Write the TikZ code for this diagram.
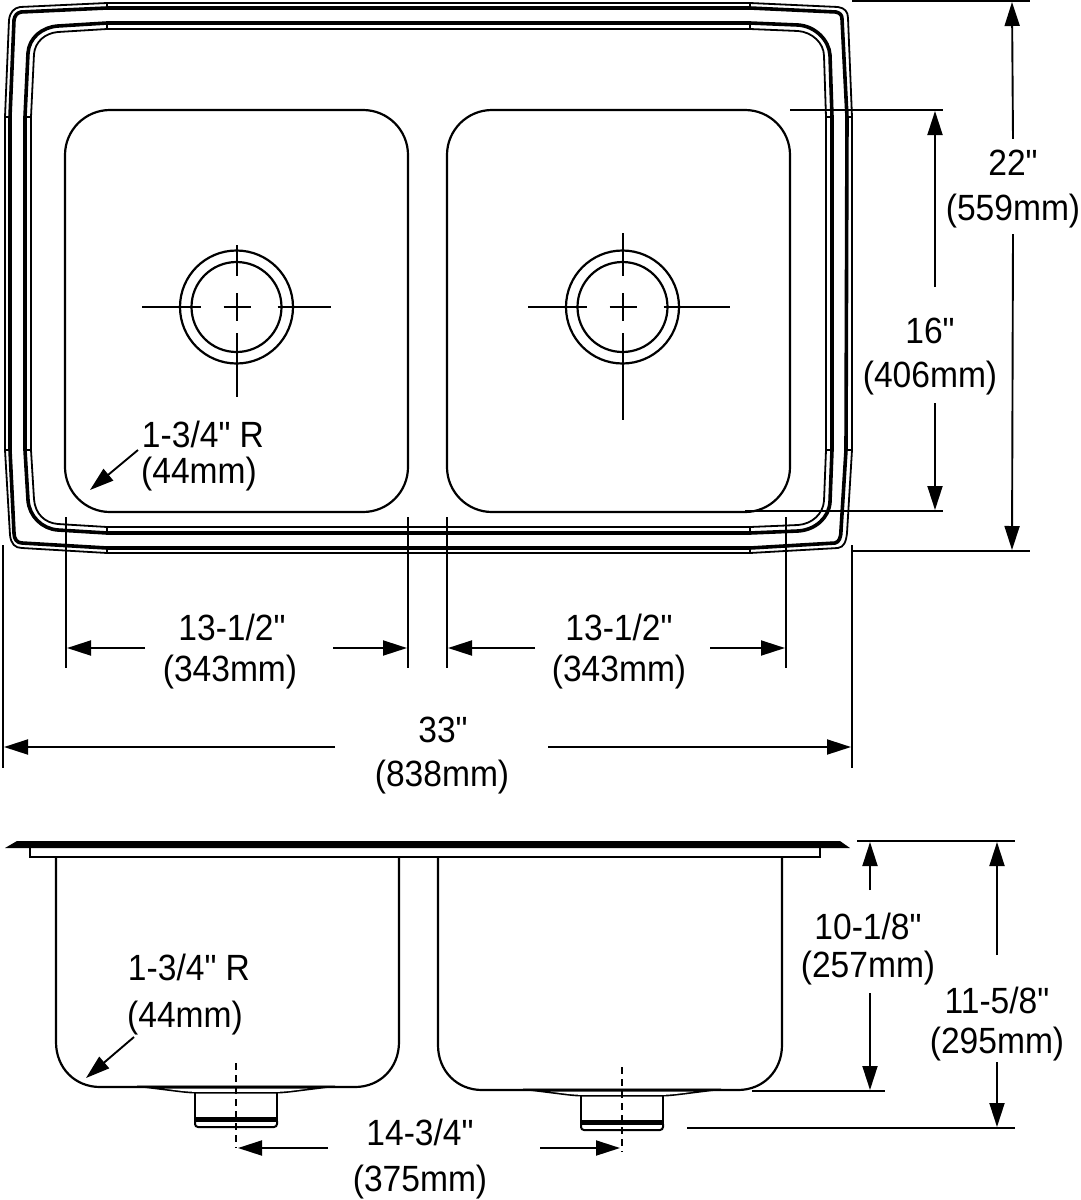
\documentclass[tikz,border=0pt]{standalone}
\usepackage{fontspec}
\setmainfont{Liberation Sans}[FakeStretch=0.92, Ligatures=TeXOff]
\usetikzlibrary{arrows.meta}

\begin{document}
\begin{tikzpicture}[x=1pt, y=-1pt,
		rimthin/.style={line width=1.8pt, line join=round},
		rimthick/.style={line width=3.6pt, line join=round},
		outline/.style={line width=2.2pt},
		thinline/.style={line width=2pt},
		dimline/.style={line width=1.9pt},
		dimarrow/.style={line width=1.9pt, -{Triangle[length=24pt, width=15pt]}},
		centerdash/.style={line width=2.2pt, dash pattern=on 7pt off 5pt},
		dimtext/.style={font=\fontsize{36.5}{36.5}\selectfont, inner sep=0pt, text height=26pt, text depth=0pt}]
\useasboundingbox (0,0) rectangle (1081,1200);

% rim
\draw[rimthin] (107,3) -- (750,3) -- (838,7) .. controls (845,8) and (848,12) .. (848,18) -- (852,117) -- (852,450) -- (847,533) .. controls (846,542) and (844,547) .. (838,548) -- (750,553) -- (107,553) -- (22,548) .. controls (15,548) and (11,544) .. (10,535) -- (5,450) -- (5,117) -- (9,20) .. controls (10,12) and (14,8) .. (20,7) -- cycle;
\draw[rimthick] (107,8) -- (750,8) -- (836,12) .. controls (840,13) and (842,15) .. (842,19) -- (847,117) -- (846,450) -- (841,530) .. controls (841,538) and (839,542) .. (835,543) -- (750,548) -- (107,548) -- (22,543) .. controls (17,543) and (14,539) .. (14,533) -- (10,450) -- (10,117) -- (14,20) .. controls (15,15) and (17,13) .. (21,12) -- cycle;
\draw[rimthick] (107,23) -- (750,23) -- (798,25) .. controls (815,26) and (829,40) .. (830,55) -- (832,117) -- (832,450) -- (830,502) .. controls (829,518) and (815,530) .. (798,531) -- (750,533) -- (107,533) -- (58,530) .. controls (42,529) and (29,516) .. (28,500) -- (25,450) -- (25,117) -- (28,53) .. controls (29,38) and (42,27) .. (58,26) -- cycle;
\draw[rimthin] (107,29) -- (750,29) -- (798,31) .. controls (812,32) and (824,43) .. (824,56) -- (826,117) -- (826,450) -- (824,501) .. controls (823,514) and (812,524) .. (798,525) -- (750,527) -- (107,527) -- (58,524) .. controls (45,523) and (35,514) .. (34,499) -- (31,450) -- (31,117) -- (34,54) .. controls (35,42) and (45,33) .. (58,32) -- cycle;
\foreach \x in {107,750} {
	\draw[rimthin] (\x,3) -- (\x,8) (\x,23) -- (\x,29) (\x,527) -- (\x,533) (\x,548) -- (\x,553);
}
\foreach \y in {117,450} {
	\draw[rimthin] (5,\y) -- (10,\y) (25,\y) -- (31,\y) (826,\y) -- (832,\y) (846,\y) -- (852,\y);
}

% bowls from above
\draw[outline, rounded corners=45pt] (65,110) rectangle (408,512);
\draw[outline, rounded corners=45pt] (447,110) rectangle (790,512);

% drains
\foreach \cx/\tl/\tr/\tb/\bb in {236.5/142/331/245/397, 622.5/528/730/233/420} {
	\draw[outline] (\cx,307) circle (56.5pt) (\cx,307) circle (45pt);
	\draw[thinline] (\tl,307) -- (\cx-36,307) (\cx-13,307) -- (\cx+14,307) (\cx+41,307) -- (\tr,307);
	\draw[thinline] (\cx,\tb) -- (\cx,276) (\cx,293) -- (\cx,321) (\cx,333) -- (\cx,\bb);
}

% dimensions, top view
\draw[dimline] (852,1) -- (1030,1) (852,551) -- (1030,551) (790,110) -- (943,110) (745,511) -- (943,511);
\draw[dimline] (66,517) -- (66,668) (408,517) -- (408,668) (447,517) -- (447,668) (786,517) -- (786,668) (3,545) -- (3,768) (852,545) -- (852,768);
\coordinate (a22top) at (1012,2);
\coordinate (a22bot) at (1012,550);
\node[dimtext] (l22) at (1013,162) {22"};
\node[dimtext] (l559) at (1013,207) {(559mm)};
\draw[dimarrow] ([yshift=10pt]l22.north) -- (a22top);
\draw[dimarrow] ([yshift=-14pt]l559.south) -- (a22bot);
\coordinate (a16top) at (935,111);
\coordinate (a16bot) at (935,510);
\node[dimtext] (l16) at (930,330) {16"};
\node[dimtext] (l406) at (930,374) {(406mm)};
\draw[dimarrow] (935,287) -- (a16top);
\draw[dimarrow] (935,403) -- (a16bot);
\coordinate (a1l) at (67,648);
\coordinate (a1r) at (407,648);
\node[dimtext] (l1a) at (232,627) {13-1/2"};
\node[dimtext] (l1b) at (230,668) {(343mm)};
\draw[dimarrow] (145,648) -- (a1l);
\draw[dimarrow] (333,648) -- (a1r);
\coordinate (a2l) at (448,648);
\coordinate (a2r) at (785,648);
\node[dimtext] (l2a) at (619,627) {13-1/2"};
\node[dimtext] (l2b) at (619,668) {(343mm)};
\draw[dimarrow] (535,648) -- (a2l);
\draw[dimarrow] (710,648) -- (a2r);
\coordinate (a3l) at (4,747);
\coordinate (a3r) at (851,747);
\node[dimtext] (l3a) at (443,729) {33"};
\node[dimtext] (l3b) at (442,773) {(838mm)};
\draw[dimarrow] (335,747) -- (a3l);
\draw[dimarrow] (548,747) -- (a3r);
\coordinate (r1s) at (138,450);
\coordinate (r1e) at (90,490);
\node[dimtext] (r1a) at (203,434) {1-3/4" R};
\node[dimtext] (r1b) at (199,470) {(44mm)};
\draw[dimarrow] (r1s) -- (r1e);

% side view
\fill (5,848) -- (17,841) -- (840,841) -- (850,848) -- cycle;
\draw[thinline] (30,848) -- (30,857) -- (820,857) -- (820,848);
\draw[outline] (56,857) -- (56,1042) .. controls (56,1068) and (75,1087) .. (100,1087) -- (355,1087) .. controls (380,1087) and (399,1068) .. (399,1042) -- (399,857);
\draw[outline] (438,857) -- (438,1045) .. controls (438,1071) and (457,1090) .. (482,1090) -- (738,1090) .. controls (763,1090) and (782,1071) .. (782,1045) -- (782,857);

% drains from the side
\foreach \cx/\fy in {236/1087, 622/1090} {
	\begin{scope}[shift={(\cx,\fy)}]
		\fill (-99,-1.5) -- (99,-1.5) -- (99,0) .. controls (65,4) and (50,6.5) .. (41,6.5) -- (-41,6.5) .. controls (-50,6.5) and (-65,4) .. (-99,0) -- cycle;
		\fill[white] (-72,1.6) .. controls (-58,3.5) and (-48,4.8) .. (-41,4.8) -- (41,4.8) .. controls (48,4.8) and (58,3.5) .. (72,1.6) -- cycle;
		\draw[thinline] (-41,5) -- (-41,31) (41,5) -- (41,31);
		\fill (-42,30) rectangle (42,35);
		\draw[thinline, rounded corners=3pt] (-41,34) -- (-41,40) -- (41,40) -- (41,34);
	\end{scope}
}
\draw[centerdash] (236,1063) -- (236,1148);
\draw[centerdash] (622,1067) -- (622,1152);

% dimensions, side view
\draw[dimline] (857,841) -- (1015,841) (752,1091) -- (885,1091) (687,1128) -- (1015,1128);
\coordinate (a10top) at (870,842);
\coordinate (a10bot) at (870,1090);
\node[dimtext] (l10a) at (868,926) {10-1/8"};
\node[dimtext] (l10b) at (868,964) {(257mm)};
\draw[dimarrow] (870,890) -- (a10top);
\draw[dimarrow] (870,993) -- (a10bot);
\coordinate (a11top) at (997,842);
\coordinate (a11bot) at (997,1127);
\node[dimtext] (l11a) at (997,1000) {11-5/8"};
\node[dimtext] (l11b) at (997,1040) {(295mm)};
\draw[dimarrow] (997,955) -- (a11top);
\draw[dimarrow] (997,1062) -- (a11bot);
\coordinate (a14l) at (238,1148);
\coordinate (a14r) at (620,1148);
\node[dimtext] (l14a) at (420,1132) {14-3/4"};
\node[dimtext] (l14b) at (420,1178) {(375mm)};
\draw[dimarrow] (328,1148) -- (a14l);
\draw[dimarrow] (540,1148) -- (a14r);
\coordinate (r2s) at (134,1037);
\coordinate (r2e) at (86,1078);
\node[dimtext] (r2a) at (189,967) {1-3/4" R};
\node[dimtext] (r2b) at (185,1014) {(44mm)};
\draw[dimarrow] (r2s) -- (r2e);
\end{tikzpicture}
\end{document}
